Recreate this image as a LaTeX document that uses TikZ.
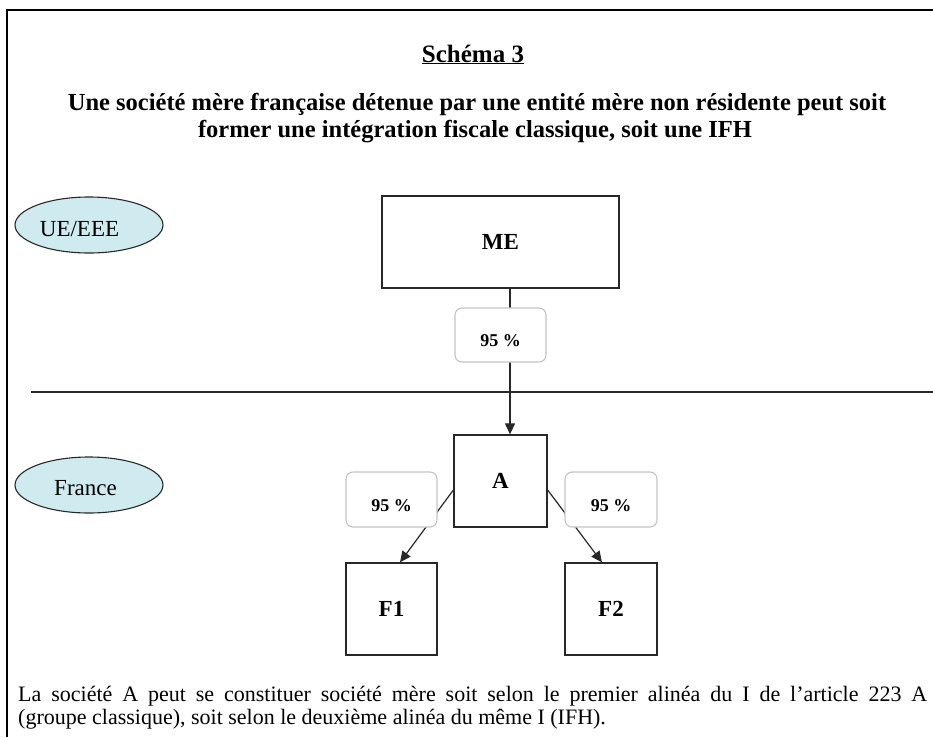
\documentclass[tikz,border=0pt]{standalone}
\usepackage{fontspec}
\setmainfont{Liberation Serif}
\usetikzlibrary{arrows.meta,shapes.geometric}
\definecolor{zonefill}{RGB}{207,235,240}
\definecolor{ink}{RGB}{40,40,40}
\definecolor{softgray}{RGB}{196,196,196}
\begin{document}
\begin{tikzpicture}[x=1pt,y=-1pt,
  frameline/.style={line width=1.4pt,draw=black},
  sepline/.style={line width=2pt,draw=ink},
  entity/.style={draw=ink,line width=1.3pt,fill=white,inner sep=0pt,
    font=\fontsize{23}{27}\selectfont\bfseries},
  pct/.style={draw=softgray,line width=1.1pt,fill=white,rounded corners=7pt,
    minimum width=91pt,inner sep=0pt,text height=23pt,text depth=0pt,
    font=\fontsize{18}{21}\selectfont\bfseries},
  zone/.style={ellipse,draw=ink,line width=1.1pt,fill=zonefill,
    minimum width=148pt,minimum height=56pt,inner sep=0pt},
  zonetext/.style={inner sep=0pt,font=\fontsize{23}{27}\selectfont},
  link/.style={draw=ink,line width=1.2pt},
  arr/.style={link,-{Triangle[length=11pt,width=10pt]}},
  plain/.style={inner sep=0pt}]
\useasboundingbox (0,0) rectangle (933,737);

% frame (open on the right and at the bottom)
\draw[frameline] (933,10) -- (7,10) -- (7,737);

% headings
\node[plain,anchor=base,font=\fontsize{25}{29}\selectfont\bfseries] (title)
  at (473,62) {\underline{Schéma 3}};
\node[plain,anchor=base,font=\fontsize{24.5}{27}\selectfont\bfseries] (head1)
  at (477,110.5) {Une société mère française détenue par une entité mère non résidente peut soit};
\node[plain,anchor=base,font=\fontsize{24.5}{27}\selectfont\bfseries] (head2)
  at (475,137.5) {former une intégration fiscale classique, soit une IFH};

% zones
\node[zone] (ue) at (89,225) {};
\node[zonetext] (uetext) at (79.5,229) {UE/EEE};
\node[zone] (fr) at (89,485) {};
\node[zonetext] (frtext) at (85.5,488) {France};

% border between the zones
\draw[sepline] (31,392) -- (933,392);

% entities
\node[entity,minimum width=237pt,minimum height=92pt] (ME) at (500.5,242) {ME};
\node[entity,minimum width=93pt,minimum height=92pt] (A) at (500.5,481) {A};
\node[entity,minimum width=91pt,minimum height=92pt] (F1) at (391.5,609) {F1};
\node[entity,minimum width=92pt,minimum height=92pt] (F2) at (611,609) {F2};

% holdings
\draw[arr] ([xshift=9.5pt]ME.south) -- ([xshift=9.5pt]A.north);
\draw[arr] ([yshift=-9pt]A.west) -- ([xshift=8.5pt]F1.north);
\draw[arr] ([yshift=-9pt]A.east) -- ([xshift=-9pt]F2.north);

% percentages
\node[pct,minimum height=54pt] (pME) at (500.5,335) {95 \%};
\node[pct,minimum height=55pt] (pF1) at (391.5,499.5) {95 \%};
\node[pct,minimum height=55pt,minimum width=92pt] (pF2) at (611,499.5) {95 \%};

% note
\node[plain,anchor=base west,font=\fontsize{22}{24}\selectfont] (note1) at (18,701)
  {\makebox[909pt][s]{La société A peut se constituer société mère soit selon le premier alinéa du I de l’article 223 A}};
\node[plain,anchor=base west,font=\fontsize{22}{24}\selectfont] (note2) at (18,724)
  {(groupe classique), soit selon le deuxième alinéa du même I (IFH).};
\end{tikzpicture}
\end{document}
